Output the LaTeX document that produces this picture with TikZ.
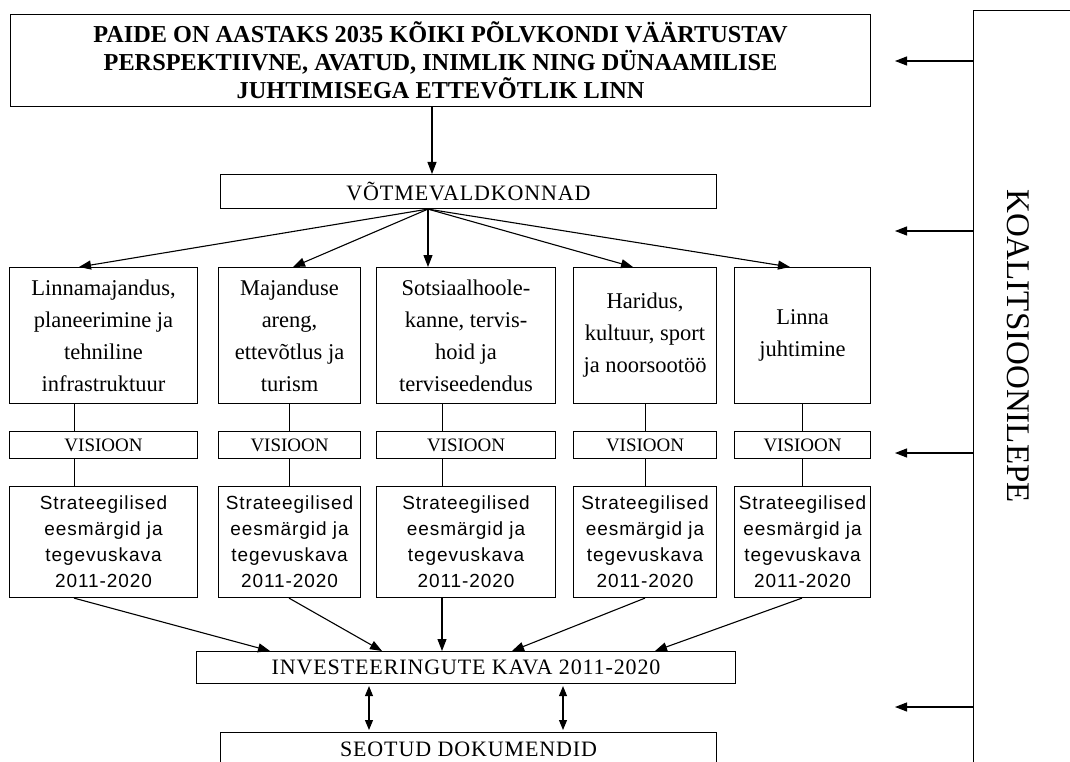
\documentclass[tikz,border=0pt]{standalone}
\usepackage{fontspec}
\setmainfont{Liberation Serif}
\newfontfamily\capsfont[LetterSpace=4]{Liberation Serif}
\newfontfamily\stratfont[LetterSpace=5]{Liberation Sans}
\usetikzlibrary{arrows.meta,calc}
\begin{document}
\begin{tikzpicture}[x=1pt,y=-1pt,line width=1.1pt,
  box/.style={draw,rectangle,anchor=north west,inner sep=0pt,align=center},
  titlebox/.style={box,font={\fontsize{24.3}{28}\selectfont\bfseries}},
  capbox/.style={box,font={\capsfont\fontsize{22}{24}\selectfont}},
  visbox/.style={box,font={\fontsize{19}{20}\selectfont}},
  dombox/.style={box,font={\fontsize{22.5}{32}\selectfont}},
  stratbox/.style={box,font={\stratfont\fontsize{19}{26}\selectfont}},
  arr/.style={-{Triangle[length=12pt,width=9pt]}},
  darr/.style={{Triangle[length=10pt,width=8pt]}-{Triangle[length=10pt,width=8pt]},shorten <=2pt,shorten >=2pt},
  link/.style={line width=1pt}]
\useasboundingbox (0,0) rectangle (1070,762);
\fill[white] (0,0) rectangle (1070,762);

% main boxes
\node[titlebox,minimum width=860,minimum height=92] (top) at (10,14)
  {PAIDE ON AASTAKS 2035 KÕIKI PÕLVKONDI VÄÄRTUSTAV\\PERSPEKTIIVNE, AVATUD, INIMLIK NING DÜNAAMILISE\\JUHTIMISEGA ETTEVÕTLIK LINN};
\node[capbox,minimum width=496,minimum height=34] (vot) at (220,174) {VÕTMEVALDKONNAD};

% domain boxes
\node[dombox,minimum width=188,minimum height=136] (d1) at (9,267) {Linnamajandus,\\planeerimine ja\\tehniline\\infrastruktuur};
\node[dombox,minimum width=142,minimum height=136] (d2) at (218,267) {Majanduse\\areng,\\ettevõtlus ja\\turism};
\node[dombox,minimum width=179,minimum height=136] (d3) at (376,267) {Sotsiaalhoole-\\kanne, tervis-\\hoid ja\\terviseedendus};
\node[dombox,minimum width=143,minimum height=136] (d4) at (573,267) {Haridus,\\kultuur, sport\\ja noorsootöö};
\node[dombox,minimum width=136,minimum height=136] (d5) at (734,267) {Linna\\juhtimine};

% vision boxes
\node[visbox,minimum width=188,minimum height=27] (v1) at (9,431) {VISIOON};
\node[visbox,minimum width=142,minimum height=27] (v2) at (218,431) {VISIOON};
\node[visbox,minimum width=179,minimum height=27] (v3) at (376,431) {VISIOON};
\node[visbox,minimum width=143,minimum height=27] (v4) at (573,431) {VISIOON};
\node[visbox,minimum width=136,minimum height=27] (v5) at (734,431) {VISIOON};

% strategy boxes
\node[stratbox,minimum width=188,minimum height=111] (s1) at (9,486) {Strateegilised\\eesmärgid ja\\tegevuskava\\2011-2020};
\node[stratbox,minimum width=142,minimum height=111] (s2) at (218,486) {Strateegilised\\eesmärgid ja\\tegevuskava\\2011-2020};
\node[stratbox,minimum width=179,minimum height=111] (s3) at (376,486) {Strateegilised\\eesmärgid ja\\tegevuskava\\2011-2020};
\node[stratbox,minimum width=143,minimum height=111] (s4) at (573,486) {Strateegilised\\eesmärgid ja\\tegevuskava\\2011-2020};
\node[stratbox,minimum width=136,minimum height=111] (s5) at (734,486) {Strateegilised\\eesmärgid ja\\tegevuskava\\2011-2020};

\node[capbox,minimum width=539,minimum height=32] (inv) at (196,651) {INVESTEERINGUTE KAVA 2011-2020};
\node[capbox,minimum width=496,minimum height=34] (seo) at (220,732) {SEOTUD DOKUMENDID};

% coalition panel
\node[draw,rectangle,anchor=north west,inner sep=0pt,minimum width=130,minimum height=780] (panel) at (973,10) {};
\node[font={\fontsize{33}{36}\selectfont},rotate=-90,inner sep=0pt] (koal) at (1018,346) {KOALITSIOONILEPE};

% helper coordinates
\coordinate (c1) at (74,0);
\coordinate (c2) at (289,0);
\coordinate (c3) at (442,0);
\coordinate (c4) at (645,0);
\coordinate (c5) at (802,0);
\coordinate (f0) at (428,0);
\coordinate (g0) at (432,0);
\coordinate (t1) at (79,0);
\coordinate (t2) at (293,0);
\coordinate (t3) at (428,0);
\coordinate (t4) at (633,0);
\coordinate (t5) at (790,0);
\coordinate (b1) at (270,0);
\coordinate (b2) at (382,0);
\coordinate (b3) at (442,0);
\coordinate (b4) at (512,0);
\coordinate (b5) at (655,0);
\coordinate (e1) at (369,0);
\coordinate (e2) at (563,0);
\coordinate (r1) at (895,61);
\coordinate (r2) at (895,231);
\coordinate (r3) at (895,453);
\coordinate (r4) at (895,707);

% connectors
\draw[arr] (top.south -| g0) -- (vot.north -| g0);
\draw[arr] (vot.south -| f0) -- (d1.north -| t1);
\draw[arr] (vot.south -| f0) -- (d2.north -| t2);
\draw[arr] (vot.south -| f0) -- (d3.north -| t3);
\draw[arr] (vot.south -| f0) -- (d4.north -| t4);
\draw[arr] (vot.south -| f0) -- (d5.north -| t5);

\foreach \i in {1,...,5}{
  \draw[link] (d\i.south -| c\i) -- (v\i.north -| c\i);
  \draw[link] (v\i.south -| c\i) -- (s\i.north -| c\i);
  \draw[arr] (s\i.south -| c\i) -- (inv.north -| b\i);
}

\draw[darr] (inv.south -| e1) -- (seo.north -| e1);
\draw[darr] (inv.south -| e2) -- (seo.north -| e2);

\foreach \i in {1,...,4}{
  \draw[arr] (r\i -| panel.west) -- (r\i);
}
\end{tikzpicture}
\end{document}
